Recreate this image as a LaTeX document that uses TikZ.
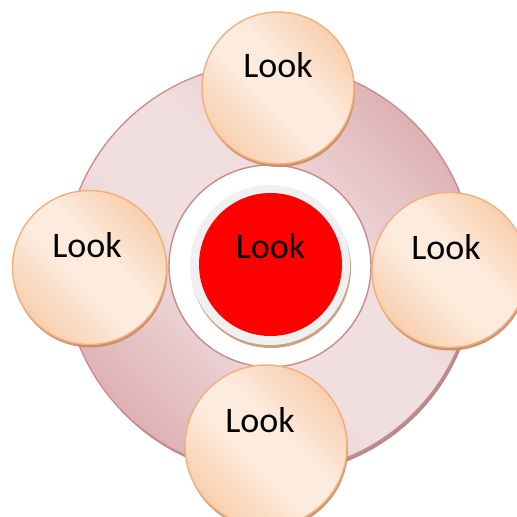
\documentclass[tikz,border=0pt]{standalone}
\usepackage{fontspec}
\setmainfont{Carlito}
\usetikzlibrary{shadows}
\definecolor{ringdark}{HTML}{D8A1A4}
\definecolor{ringlight}{HTML}{F1DEDF}
\definecolor{ringedge}{HTML}{C98A8E}
\definecolor{ringshadow}{HTML}{B48C8F}
\definecolor{satdark}{HTML}{F6BF92}
\definecolor{satlight}{HTML}{FDEBDD}
\definecolor{satedge}{HTML}{F2AF7C}
\definecolor{satshadow}{HTML}{C98B60}
\definecolor{grayring}{HTML}{F0F0F0}
\definecolor{tanshadow}{HTML}{C9A386}
\pgfdeclarehorizontalshading{satshade}{100bp}{color(0bp)=(satdark); color(14bp)=(satdark); color(44bp)=(satlight); color(56bp)=(satlight); color(86bp)=(satdark); color(100bp)=(satdark)}
\pgfdeclarehorizontalshading{ringshade}{100bp}{color(0bp)=(ringdark); color(18bp)=(ringdark); color(44bp)=(ringlight); color(56bp)=(ringlight); color(82bp)=(ringdark); color(100bp)=(ringdark)}
\tikzset{
  sat/.style={circle, inner sep=0pt, minimum size=#1, line width=1.4pt, draw=satedge,
    shading=satshade, shading angle=45,
    drop shadow={shadow xshift=1pt, shadow yshift=-3pt, fill=satshadow, opacity=0.9}},
  lbl/.style={font=\fontsize{36}{40}\selectfont, text=black, inner sep=0pt}
}
\begin{document}
\begin{tikzpicture}[x=1pt,y=-1pt]
\useasboundingbox (0,0) rectangle (517,517);
% ring
\fill[ringshadow] (271,271) circle (205);
\node[circle, inner sep=0pt, minimum size=410pt, draw=ringedge, line width=1.3pt,
  shading=ringshade, shading angle=45] (ring) at (269,268) {};
\node[circle, inner sep=0pt, minimum size=202pt, fill=white, draw=ringedge, line width=1.4pt] (hole) at (270,266) {};
% center
\node[circle, inner sep=0pt, minimum size=160pt, fill=grayring,
  drop shadow={shadow xshift=1pt, shadow yshift=-3pt, fill=tanshadow, opacity=1}] (gray) at (270,265) {};
\node[circle, inner sep=0pt, minimum size=143pt, fill=red] (core) at (270.5,264.5) {};
\node[lbl] at ([yshift=18.5pt]core.center) {Look};
% satellites
\node[sat=152pt] (top) at (278,88) {};
\node[sat=154pt] (left) at (89.5,267.5) {};
\node[sat=155pt] (right) at (449.5,270) {};
\node[sat=162pt] (bottom) at (266,446) {};
\node[lbl] at ([yshift=23pt]top.center) {Look};
\node[lbl] at ([xshift=-2.5pt,yshift=22.5pt]left.center) {Look};
\node[lbl] at ([xshift=-3.5pt,yshift=23pt]right.center) {Look};
\node[lbl] at ([xshift=-6pt,yshift=26pt]bottom.center) {Look};
\end{tikzpicture}
\end{document}
